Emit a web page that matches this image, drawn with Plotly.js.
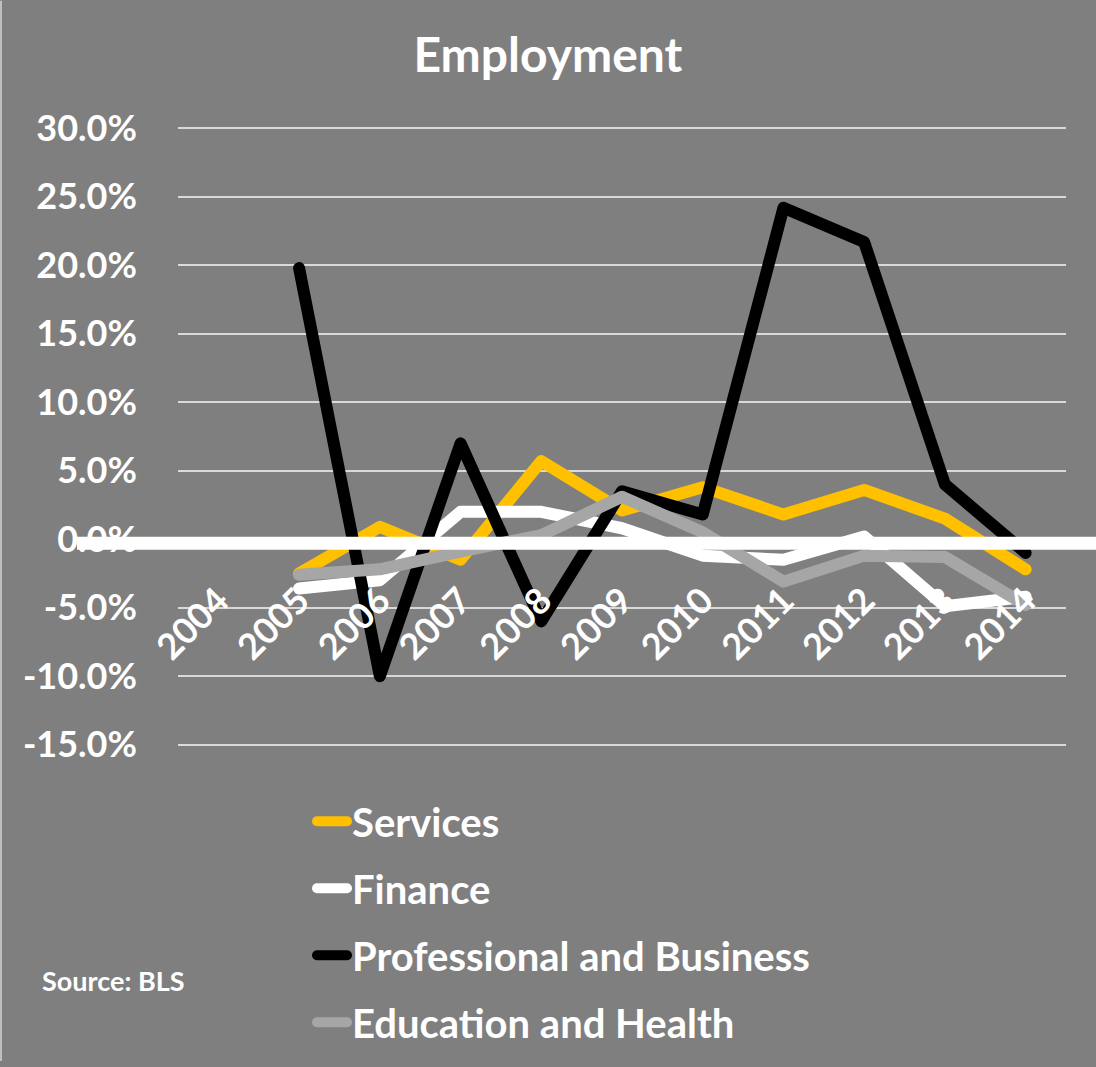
<!DOCTYPE html>
<html>
<head>
<meta charset="utf-8">
<script src="https://cdn.plot.ly/plotly-3.0.1.min.js"></script>
<style>
html,body{margin:0;padding:0;background:#7f7f7f;}
#chart{width:1096px;height:1067px;}
#chart .scatterlayer .js-line, #chart .legendlines path {stroke-linejoin: round !important; stroke-linecap: round !important;}
</style>
</head>
<body>
<div id="chart"></div>
<script>
const years = ["2004","2005","2006","2007","2008","2009","2010","2011","2012","2013","2014"];
const services     = [null, -2.5, 0.9, -1.5, 5.7, 2.1, 3.8, 1.8, 3.6, 1.5, -2.2];
const finance      = [null, -3.6, -3.0, 2.0, 2.0, 0.8, -1.2, -1.5, 0.2, -4.9, -4.2];
const professional = [null, 19.8, -10.0, 7.0, -6.0, 3.5, 1.8, 24.2, 21.7, 4.0, -1.0];
const education    = [null, -2.6, -2.2, -0.9, 0.3, 3.1, 0.5, -3.1, -1.2, -1.3, -4.8];
const seriesNames  = ["Services", "Finance", "Professional and Business", "Education and Health"];
const seriesColors = ["#ffc000", "#ffffff", "#000000", "#a6a6a6"];
const yTickVals    = [-15, -10, -5, 0, 5, 10, 15, 20, 25, 30];
const yTickText    = ["-15.0%", "-10.0%", "-5.0%", "0.0%", "5.0%", "10.0%", "15.0%", "20.0%", "25.0%", "30.0%"];

const FONT = "Lato, 'Open Sans', sans-serif";
const Y_RANGE = [-15.1, 30.1];
const W = 1096, H = 1067;
const M = {l: 178, r: 30, t: 127, b: 317};
const plotH = H - M.t - M.b;
const plotW = W - M.l - M.r;
const zeroPos = (0 - Y_RANGE[0]) / (Y_RANGE[1] - Y_RANGE[0]);
const px2paperX = px => (px - M.l) / plotW;
const px2paperY = py => (H - M.b - py) / plotH;

const allSeries = [services, finance, professional, education];
const traces = allSeries.map((vals, i) => ({
  type: "scatter",
  mode: "lines",
  x: years,
  y: vals,
  name: seriesNames[i],
  legendgroup: "g" + i,
  line: {color: seriesColors[i], width: 12},
  connectgaps: false,
  hoverinfo: "skip"
}));

const layout = {
  width: W,
  height: H,
  paper_bgcolor: "#7f7f7f",
  plot_bgcolor: "#7f7f7f",
  margin: M,
  font: {family: FONT, color: "#ffffff", size: 36, weight: "bold"},
  title: {
    text: "Employment",
    x: 0.5, xref: "container", xanchor: "center",
    y: 1 - 55/H, yref: "container", yanchor: "middle",
    font: {family: FONT, size: 48, color: "#ffffff", weight: "bold"}
  },
  xaxis: {
    type: "category",
    categoryorder: "array",
    categoryarray: years,
    range: [-0.5, 10.5],
    anchor: "free",
    position: zeroPos,
    tickangle: -45,
    ticks: "",
    ticklabelstandoff: 32,
    showgrid: false,
    zeroline: false,
    showline: false,
    tickfont: {family: FONT, size: 36, color: "#ffffff", weight: "bold"},
    fixedrange: true
  },
  yaxis: {
    range: Y_RANGE,
    tickvals: yTickVals,
    ticktext: yTickText,
    ticks: "",
    showgrid: true,
    gridcolor: "#d9d9d9",
    gridwidth: 2,
    zeroline: false,
    showline: false,
    ticklabelstandoff: 40,
    tickfont: {family: FONT, size: 36, color: "#ffffff", weight: "bold"},
    fixedrange: true
  },
  showlegend: true,
  legend: {
    x: px2paperX(312),
    xanchor: "left",
    y: px2paperY(793),
    yanchor: "top",
    orientation: "v",
    traceorder: "grouped",
    tracegroupgap: 12,
    bgcolor: "rgba(0,0,0,0)",
    font: {family: FONT, size: 40, color: "#ffffff", weight: "bold"},
    itemwidth: 30
  },
  shapes: [
    {
      type: "line", xref: "paper", yref: "paper",
      x0: px2paperX(77), x1: px2paperX(1096),
      y0: zeroPos - 4/plotH, y1: zeroPos - 4/plotH,
      line: {color: "#ffffff", width: 13},
      layer: "above"
    },
    {
      type: "line", xref: "paper", yref: "paper",
      x0: px2paperX(1), x1: px2paperX(1),
      y0: px2paperY(H), y1: px2paperY(0),
      line: {color: "#bfbfbf", width: 2},
      layer: "above"
    }
  ],
  annotations: [
    {
      text: "Source: BLS",
      xref: "paper", yref: "paper",
      x: px2paperX(40), xanchor: "left",
      y: px2paperY(986), yanchor: "middle",
      showarrow: false,
      font: {family: FONT, size: 27, color: "#ffffff", weight: "bold"}
    }
  ]
};

Plotly.newPlot("chart", traces, layout, {displayModeBar: false, staticPlot: true});
</script>
</body>
</html>
